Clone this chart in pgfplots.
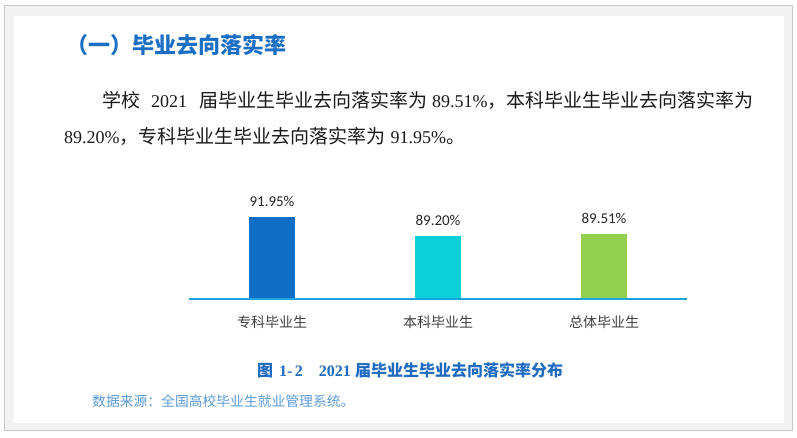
\documentclass[border=0pt]{standalone}
\usepackage{fontspec}
\usepackage{pgfplots}
\pgfplotsset{compat=1.18}
\setmainfont{Liberation Serif}
\newfontfamily\cjk{Noto Sans CJK SC}
\newfontfamily\lat{Carlito}
\definecolor{framegray}{HTML}{F2F2F2}
\definecolor{frameline}{HTML}{C8C8C8}
\definecolor{headblue}{HTML}{1A6FC4}
\definecolor{capblue}{HTML}{1F6BC0}
\definecolor{srcblue}{HTML}{5B9BD5}
\definecolor{barblue}{HTML}{0F6FC6}
\definecolor{barcyan}{HTML}{0CD0D8}
\definecolor{bargreen}{HTML}{92D050}
\definecolor{axisblue}{HTML}{1CA3DE}
\definecolor{txt}{HTML}{1A1A1A}
\definecolor{tickgray}{HTML}{404040}
\definecolor{labgray}{HTML}{262626}
\newcommand{\C}[1]{{\cjk\fontsize{19}{19}\selectfont #1}}
\newcommand{\Cb}[1]{{\cjk\bfseries\fontsize{16}{16}\selectfont #1}}
\begin{document}
\begin{tikzpicture}[x=1pt,y=1pt]
\path[fill=white] (0,0) rectangle (797,438);
\draw[draw=frameline, fill=framegray, line width=1pt] (4,7) rectangle (792,432);
\fill[white] (14,15) rectangle (784,422);
% heading
\node[anchor=west, inner sep=0, text=headblue] at (66,393)
  {\cjk\bfseries\fontsize{22}{22}\selectfont （一）毕业去向落实率};
% paragraph
\node[anchor=west, inner sep=0, text=txt, font=\fontsize{18}{18}\selectfont] at (102,338)
  {\C{学校}\hspace{11pt}2021\hspace{12pt}\C{届毕业生毕业去向落实率为}\hspace{5pt}89.51\%\C{，本科毕业生毕业去向落实率为}};
\node[anchor=west, inner sep=0, text=txt, font=\fontsize{18}{18}\selectfont] at (64,302)
  {89.20\%\C{，专科毕业生毕业去向落实率为}\hspace{5pt}91.95\%\C{。}};
% caption
\node[anchor=center, inner sep=0, text=capblue, font=\bfseries\fontsize{16}{16}\selectfont] at (410,68)
  {\Cb{图}\hspace{6pt}1-\,2\hspace{16pt}2021\hspace{4pt}\Cb{届毕业生毕业去向落实率分布}};
\node[anchor=west, inner sep=0, text=srcblue] at (92,37)
  {\cjk\fontsize{13.8}{14}\selectfont 数据来源：全国高校毕业生就业管理系统。};
\begin{axis}[
  at={(189pt,138.5pt)}, anchor=south west,
  scale only axis, width=498pt, height=103.5pt,
  xmin=-0.5, xmax=2.5, ymin=80, ymax=95,
  axis x line=bottom, axis y line=none,
  x axis line style={-, draw=axisblue, line width=2pt},
  axis on top,
  xtick={0,1,2},
  xticklabels={专科毕业生,本科毕业生,总体毕业生},
  xticklabel style={font=\cjk\fontsize{14}{14}\selectfont, text=tickgray, inner sep=0pt, yshift=-12pt},
  xtick style={draw=none},
  ytick=\empty,
  clip=false,
  ybar, bar width=46pt,
  point meta=explicit symbolic,
  nodes near coords,
  nodes near coords style={font=\lat\fontsize{15}{15}\selectfont, text=labgray, anchor=south, inner sep=0pt, yshift=10pt},
]
\addplot[bar shift=0pt, fill=barblue, draw=none] coordinates {(0,91.95) [91.95\%]};
\addplot[bar shift=0pt, fill=barcyan, draw=none] coordinates {(1,89.20) [89.20\%]};
\addplot[bar shift=0pt, fill=bargreen, draw=none] coordinates {(2,89.51) [89.51\%]};
\end{axis}
\end{tikzpicture}
\end{document}
